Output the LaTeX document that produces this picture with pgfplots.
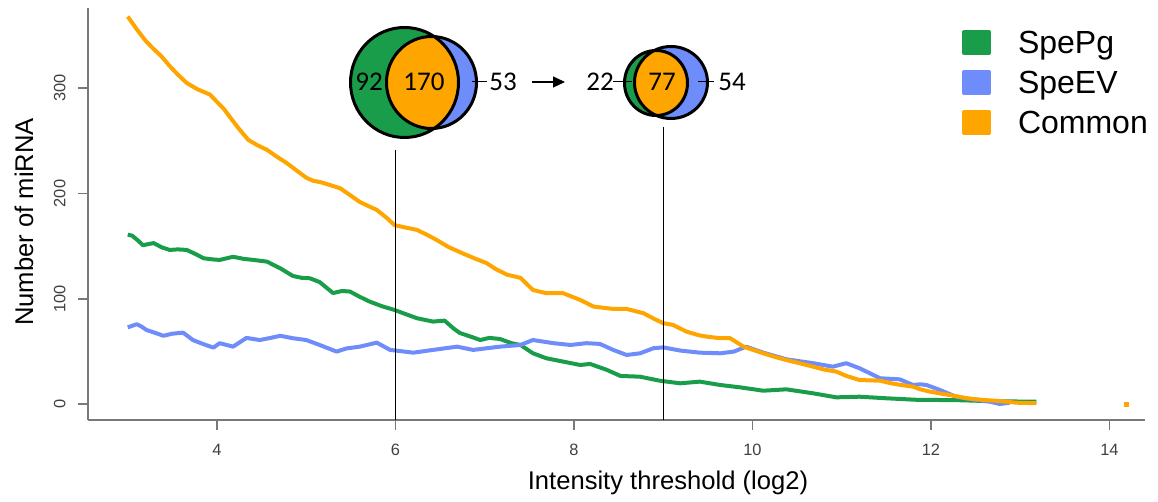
\documentclass[border=0pt]{standalone}
\usepackage{pgfplots}
\pgfplotsset{compat=1.18}
\usepackage{fontspec}
\setmainfont{Liberation Sans}
\newfontfamily\calibri{Carlito}
\usetikzlibrary{arrows.meta}
\definecolor{pgGreen}{RGB}{26,157,75}
\definecolor{pgBlue}{RGB}{110,140,250}
\definecolor{pgOrange}{RGB}{255,165,0}
\definecolor{axgray}{RGB}{120,120,120}

\begin{document}
\begin{tikzpicture}
\useasboundingbox (-44pt,-41pt) rectangle (535pt,210pt);
\begin{axis}[
  at={(0pt,0pt)}, anchor=south west,
  scale only axis, width=528.5pt, height=206pt,
  xmin=2.5546, xmax=14.398, ymin=-14.9, ymax=376.1,
  axis lines=left,
  axis line style={-, draw=axgray, line width=1pt},
  xtick={4,6,8,10,12,14}, ytick={0,100,200,300},
  tick align=outside, major tick length=5pt,
  tick style={draw=axgray, line width=0.8pt},
  /pgf/number format/assume math mode=true,
  ticklabel style={font=\fontsize{8.2}{9}\selectfont, text=black!75, inner sep=0pt},
  xticklabel shift=7pt,
  yticklabel style={rotate=90, anchor=south},
  yticklabel shift=6pt,
  xlabel={Intensity threshold (log2)},
  ylabel={Number of miRNA},
  label style={font=\fontsize{12.8}{14}\selectfont},
  xlabel style={at={(axis description cs:0.5487,-0.1529)}, anchor=center},
  ylabel style={at={(axis description cs:-0.0605,0.4806)}, anchor=center},
  clip=false,
  legend style={at={(rel axis cs:0.8269,0.9507)}, anchor=north west, draw=none, fill=none,
    inner sep=0pt, outer sep=0pt, row sep=5.8pt,
    font=\fontsize{16}{18}\selectfont,
    nodes={inner sep=0pt, text height=12.5pt, text depth=1.7pt},
    /tikz/every odd column/.append style={column sep=13.5pt}},
  legend cell align=left,
  legend image code/.code={\fill (0pt,-5.25pt) rectangle (12.5pt,5.25pt);},
]
\addplot[color=pgGreen, line width=2pt, line join=round] coordinates {
(3.00,161) (3.05,160) (3.12,155) (3.17,151) (3.29,153) (3.38,149) (3.47,146.5) (3.56,147)
(3.66,146.5) (3.75,143) (3.85,138.6) (3.95,137.5) (4.03,137) (4.18,140) (4.30,138) (4.41,137)
(4.56,135.4) (4.64,132) (4.71,129) (4.85,121.8) (4.95,120) (5.04,119.6) (5.15,116) (5.30,105.6)
(5.40,107.5) (5.49,107) (5.60,102) (5.71,97.5) (5.85,93) (5.99,89.5) (6.10,86) (6.24,81.7)
(6.42,78.5) (6.55,79.4) (6.65,72) (6.72,67.7) (6.85,64) (6.95,61) (7.05,63) (7.17,62)
(7.30,58) (7.40,56.3) (7.54,48.4) (7.69,43.7) (7.88,40.5) (8.07,37.3) (8.18,38.3) (8.37,32.6)
(8.52,26.9) (8.74,26.2) (8.96,22.4) (9.19,19.9) (9.41,21.5) (9.64,18.3) (9.86,16.1) (10.12,12.9)
(10.38,14.2) (10.68,10.4) (10.94,6.6) (11.20,7.2) (11.50,5.7) (11.88,4.1) (12.03,4.1) (12.25,4)
(12.47,3.5) (12.62,3) (12.90,2.7) (13.18,2.5)
};
\addlegendentry{SpePg}
\addplot[color=pgBlue, line width=2pt, line join=round] coordinates {
(3.00,73) (3.10,76) (3.15,74) (3.21,70.5) (3.30,68) (3.40,65) (3.50,67) (3.62,68)
(3.73,61) (3.85,57) (3.96,53.8) (4.03,58) (4.18,54.7) (4.33,63) (4.48,61) (4.60,63)
(4.71,65) (4.85,62.7) (5.00,61) (5.15,56.3) (5.34,50) (5.45,53) (5.60,54.7) (5.79,58.5)
(5.94,51.6) (6.20,49) (6.42,51.6) (6.69,54.7) (6.87,51.6) (7.17,54.7) (7.40,56.3) (7.54,61)
(7.77,58) (7.96,56.3) (8.14,58) (8.29,57.3) (8.44,51.6) (8.59,46.8) (8.74,48.4) (8.89,53.2)
(9.00,54) (9.19,51) (9.41,49) (9.64,48.4) (9.79,50) (9.93,54.7) (10.12,49) (10.38,42.7)
(10.68,39) (10.90,35.7) (11.05,39) (11.20,34.2) (11.43,24.7) (11.65,23.7) (11.80,18.3) (11.88,19)
(11.95,18.3) (12.10,13.6) (12.28,7.2) (12.47,4.7) (12.66,2.5) (12.77,0.3) (12.88,1.5)
};
\addlegendentry{SpeEV}
\addplot[color=pgOrange, line width=2pt, line join=round] coordinates {
(3.00,368) (3.10,356) (3.20,345) (3.28,338) (3.38,330) (3.47,321) (3.56,313) (3.66,305)
(3.78,299) (3.92,294) (4.00,287) (4.08,280) (4.15,272) (4.25,261) (4.35,251) (4.45,246)
(4.56,241.5) (4.67,235) (4.78,229) (4.89,222) (5.00,215) (5.08,212) (5.15,211) (5.27,208)
(5.38,205) (5.50,198) (5.60,192) (5.70,188) (5.79,184.5) (5.90,177) (5.99,170) (6.10,168)
(6.24,165.5) (6.35,161) (6.46,156) (6.60,149) (6.76,143) (6.90,138) (7.02,134) (7.13,128)
(7.25,123) (7.40,120) (7.54,108.5) (7.69,105.4) (7.88,105.4) (8.07,99) (8.22,92.7) (8.44,90.5)
(8.59,90.5) (8.78,86.4) (8.90,81) (9.00,77) (9.11,75.3) (9.26,69) (9.40,65.5) (9.49,64.2)
(9.64,62.7) (9.75,62.7) (9.90,54.7) (10.12,48.4) (10.25,45) (10.38,42) (10.55,38.5) (10.68,35.7)
(10.80,33) (10.94,31) (11.05,27) (11.20,23) (11.43,22.4) (11.55,20) (11.65,18.5) (11.80,16.7)
(11.88,14.2) (11.99,12) (12.10,10.3) (12.21,8.8) (12.40,5.7) (12.59,4.1) (12.77,3.1) (12.96,1.5)
(13.18,1)
};
\addlegendentry{Common}
\addplot[forget plot, only marks, mark=square*, mark size=1pt, color=pgOrange] coordinates {(14.19,0.3)};
\draw[black, line width=0.7pt] (axis cs:6,-14.9) -- (axis cs:6,241);
\draw[black, line width=0.7pt] (axis cs:9,-14.9) -- (axis cs:9,263.3);
\end{axis}
% big Venn
\fill[pgGreen] (158.25pt,168.75pt) ellipse [x radius=27pt, y radius=27.5pt];
\fill[pgBlue] (171.75pt,168.75pt) ellipse [x radius=22.5pt, y radius=23pt];
\begin{scope}
\clip (158.25pt,168.75pt) ellipse [x radius=27pt, y radius=27.5pt];
\fill[pgOrange] (171.75pt,168.75pt) ellipse [x radius=22.5pt, y radius=23pt];
\end{scope}
\draw[black, line width=1.5pt] (158.25pt,168.75pt) ellipse [x radius=27pt, y radius=27.5pt];
\draw[black, line width=1.5pt] (171.75pt,168.75pt) ellipse [x radius=22.5pt, y radius=23pt];
% small Venn
\fill[pgGreen] (284pt,168.5pt) ellipse [x radius=15.75pt, y radius=16.25pt];
\fill[pgBlue] (291.5pt,168.75pt) ellipse [x radius=18.25pt, y radius=18pt];
\begin{scope}
\clip (284pt,168.5pt) ellipse [x radius=15.75pt, y radius=16.25pt];
\fill[pgOrange] (291.5pt,168.75pt) ellipse [x radius=18.25pt, y radius=18pt];
\end{scope}
\draw[black, line width=1.5pt] (284pt,168.5pt) ellipse [x radius=15.75pt, y radius=16.25pt];
\draw[black, line width=1.5pt] (291.5pt,168.75pt) ellipse [x radius=18.25pt, y radius=18pt];
% labels
\begin{scope}[every node/.style={font=\calibri\fontsize{13.5}{14}\selectfont, inner sep=0pt}]
\node at (140.5pt,169pt) {92};
\node at (168pt,169pt) {170};
\node at (207.5pt,169pt) {53};
\node at (256pt,169pt) {22};
\node at (287pt,169pt) {77};
\node at (322pt,169pt) {54};
\end{scope}
\draw[black, line width=0.5pt] (192pt,169pt) -- (199.5pt,169pt);
\draw[black, line width=0.5pt] (262.5pt,169pt) -- (272pt,169pt);
\draw[black, line width=0.5pt] (305pt,169pt) -- (313pt,169pt);
\draw[black, line width=0.6pt, -{Triangle[length=6pt, width=5.5pt]}] (222pt,169pt) -- (238.5pt,169pt);
\end{tikzpicture}
\end{document}
